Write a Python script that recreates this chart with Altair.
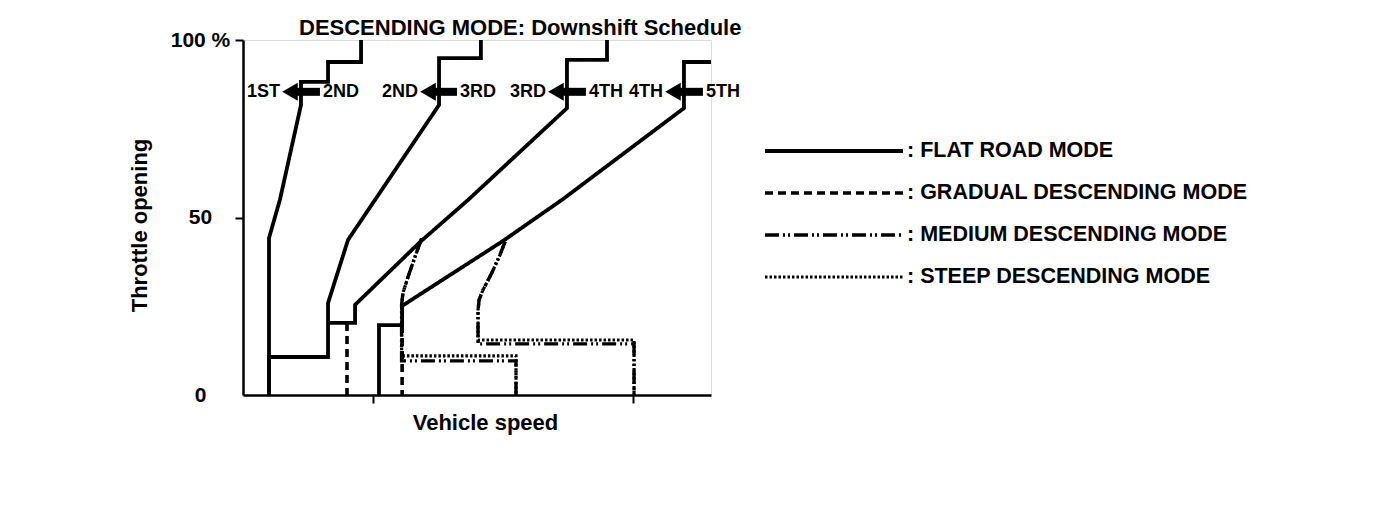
import altair as alt
import pandas as pd

FONT = "Liberation Sans"

MODES = ["FLAT ROAD MODE", "GRADUAL DESCENDING MODE",
         "MEDIUM DESCENDING MODE", "STEEP DESCENDING MODE"]

# ---- downshift lines: vehicle speed (arbitrary units 0-180), throttle opening (%) ----
# FLAT ROAD MODE
flat_21_x = [45.4, 45.4, 32.7, 32.7, 22.3, 22.3, 14.2, 10.0, 10.0]
flat_21_y = [100.0, 93.8, 93.8, 88.2, 88.2, 81.7, 55.0, 44.2, 0.0]
flat_32_x = [91.5, 91.5, 75.4, 75.4, 40.4, 32.7, 32.7, 10.0, 10.0]
flat_32_y = [100.0, 94.9, 94.9, 81.7, 43.7, 25.9, 10.7, 10.7, 0.0]
flat_43_x = [140.0, 140.0, 124.6, 124.6, 86.5, 68.1, 43.1, 43.1, 32.7]
flat_43_y = [100.0, 94.4, 94.4, 80.8, 54.9, 43.1, 25.4, 20.3, 20.3]
flat_54_x = [180.0, 169.6, 169.6, 123.1, 100.0, 61.2, 61.2, 52.3, 52.3]
flat_54_y = [93.8, 93.8, 80.8, 55.2, 43.4, 25.1, 19.7, 19.7, 0.0]
# GRADUAL DESCENDING MODE
grad_43_x = [40.0, 40.0]
grad_43_y = [20.3, 0.0]
grad_54_x = [61.2, 61.2]
grad_54_y = [19.7, 0.0]
# MEDIUM DESCENDING MODE
med_43_x = [68.7, 66.2, 63.5, 61.5, 61.0, 61.0, 105.0, 105.0]
med_43_y = [44.1, 39.0, 33.3, 28.7, 25.4, 9.6, 9.6, 0.0]
med_54_x = [100.8, 98.8, 95.7, 92.3, 90.8, 90.4, 90.4, 150.4, 150.4]
med_54_y = [43.2, 39.4, 34.4, 29.6, 26.8, 23.9, 14.4, 14.4, 0.0]
# STEEP DESCENDING MODE
steep_43_x = [68.7, 66.2, 63.5, 61.5, 61.0, 61.0, 105.0, 105.0]
steep_43_y = [44.1, 39.0, 33.3, 28.7, 25.4, 11.0, 11.0, 0.0]
steep_54_x = [100.8, 98.8, 95.7, 92.3, 90.8, 90.4, 90.4, 150.4, 150.4]
steep_54_y = [43.2, 39.4, 34.4, 29.6, 26.8, 23.9, 15.5, 15.5, 0.0]

# ---- shift arrows ----
arrow_tip = [14.6, 67.7, 116.9, 161.9]
arrow_end = [29.6, 82.3, 131.9, 176.9]
arrow_throttle = [85.4, 85.4, 85.4, 85.4]
gear_low = ["1ST", "2ND", "3RD", "4TH"]
gear_high = ["2ND", "3RD", "4TH", "5TH"]

TITLE = "DESCENDING MODE: Downshift Schedule"
X_TITLE = "Vehicle speed"
Y_TITLE = "Throttle opening"
y_ticks = [0, 50, 100]
x_ticks = [50, 150]

segments = [
    ("f21", MODES[0], flat_21_x, flat_21_y),
    ("f32", MODES[0], flat_32_x, flat_32_y),
    ("f43", MODES[0], flat_43_x, flat_43_y),
    ("f54", MODES[0], flat_54_x, flat_54_y),
    ("g43", MODES[1], grad_43_x, grad_43_y),
    ("g54", MODES[1], grad_54_x, grad_54_y),
    ("m43", MODES[2], med_43_x, med_43_y),
    ("m54", MODES[2], med_54_x, med_54_y),
    ("s43", MODES[3], steep_43_x, steep_43_y),
    ("s54", MODES[3], steep_54_x, steep_54_y),
]
rows = []
for seg, mode, xs_, ys_ in segments:
    for i, (xv, yv) in enumerate(zip(xs_, ys_)):
        rows.append({"seg": seg, "mode": mode, "order": i, "speed": xv, "throttle": yv})
lines_df = pd.DataFrame(rows)

arrows_df = pd.DataFrame({"speed": arrow_tip, "speed_end": arrow_end,
                          "throttle": arrow_throttle, "low": gear_low, "high": gear_high})

legend_df = pd.DataFrame({"mode": MODES, "row": list(range(len(MODES))),
                          "start": [0.0] * len(MODES), "end": [1.0] * len(MODES),
                          "label": [": " + m for m in MODES]})

title_df = pd.DataFrame({"t": [TITLE]})

dash_scale = alt.Scale(domain=MODES, range=[[1, 0], [8, 5], [14, 4, 2, 3, 2, 4], [2.5, 2]])
width_scale = alt.Scale(domain=MODES, range=[3.8, 3.2, 2.6, 3.0])

x_axis = alt.Axis(values=x_ticks, labels=False, tickSize=8, tickWidth=2, tickColor="black",
                  domainColor="black", domainWidth=2.5, grid=False, title=X_TITLE,
                  titleFont=FONT, titleFontSize=22, titleFontWeight="bold", titleColor="black",
                  titlePadding=8, titleX=242)
y_axis = alt.Axis(values=y_ticks, labelExpr="datum.value == 100 ? '100 %' : datum.label",
                  labelAlign="center", labelBaseline="middle", labelPadding=35,
                  labelFont=FONT, labelFontSize=21, labelFontWeight="bold", labelColor="black",
                  tickSize=8, tickWidth=2, tickColor="black",
                  tickOpacity={"condition": {"test": "datum.value === 0", "value": 0}, "value": 1},
                  domainColor="black", domainWidth=2.5, grid=False, title=Y_TITLE,
                  titleFont=FONT, titleFontSize=22, titleFontWeight="bold", titleColor="black",
                  titlePadding=19, titleY=185)

X = alt.X("speed:Q", scale=alt.Scale(domain=[0, 180], nice=False), axis=x_axis)
Y = alt.Y("throttle:Q", scale=alt.Scale(domain=[0, 100], nice=False), axis=y_axis)

lines = alt.Chart(lines_df).mark_line(color="black").encode(
    x=X, y=Y, detail="seg:N", order="order:Q",
    strokeDash=alt.StrokeDash("mode:N", scale=dash_scale, legend=None),
    strokeWidth=alt.StrokeWidth("mode:N", scale=width_scale, legend=None),
)

arrow_body = alt.Chart(arrows_df).mark_rule(color="black", strokeWidth=8, xOffset=10).encode(
    x=X, x2="speed_end:Q", y=Y)
arrow_head = alt.Chart(arrows_df).mark_point(shape="triangle-left", filled=True, size=324,
                                             color="black", opacity=1, xOffset=9).encode(x=X, y=Y)
low_text = alt.Chart(arrows_df).mark_text(align="right", baseline="middle", dx=-1, font=FONT,
                                          fontSize=18, fontWeight="bold", color="black").encode(
    x=X, y=Y, text="low:N")
high_text = alt.Chart(arrows_df).mark_text(align="left", baseline="middle", dx=3, font=FONT,
                                           fontSize=18, fontWeight="bold", color="black").encode(
    x=alt.X("speed_end:Q", scale=alt.Scale(domain=[0, 180], nice=False), axis=x_axis),
    y=Y, text="high:N")

# chart heading, placed just above the plot frame
heading = alt.Chart(title_df).mark_text(align="left", baseline="alphabetic", font=FONT,
                                        fontSize=22, fontWeight="bold", color="black").encode(
    x=alt.value(56), y=alt.value(-5), text="t:N")

main = alt.layer(lines, arrow_body, arrow_head, low_text, high_text, heading)

LX = alt.Scale(domain=[0, 1], range=[522, 660])
LY = alt.Scale(domain=[0, 3], range=[111, 237])
leg_lines = alt.Chart(legend_df).mark_rule(color="black").encode(
    x=alt.X("start:Q", scale=LX, axis=None), x2="end:Q",
    y=alt.Y("row:Q", scale=LY, axis=None),
    strokeDash=alt.StrokeDash("mode:N", scale=dash_scale, legend=None),
    strokeWidth=alt.StrokeWidth("mode:N", scale=width_scale, legend=None),
)
leg_text = alt.Chart(legend_df).mark_text(align="left", baseline="middle", dx=4, font=FONT,
                                          fontSize=21.5, fontWeight="bold", color="black").encode(
    x=alt.X("end:Q", scale=LX, axis=None), y=alt.Y("row:Q", scale=LY, axis=None), text="label:N")
legend = alt.layer(leg_lines, leg_text)

chart = alt.layer(main, legend).resolve_scale(x="independent", y="independent").properties(
    width=468, height=355,
    padding={"left": 235, "top": 32, "right": 657, "bottom": 120},
    autosize=alt.AutoSizeParams(type="none"),
).configure_view(stroke=None).configure(background="white")

chart.save("out.html", embed_options={"renderer": "svg", "actions": False})
